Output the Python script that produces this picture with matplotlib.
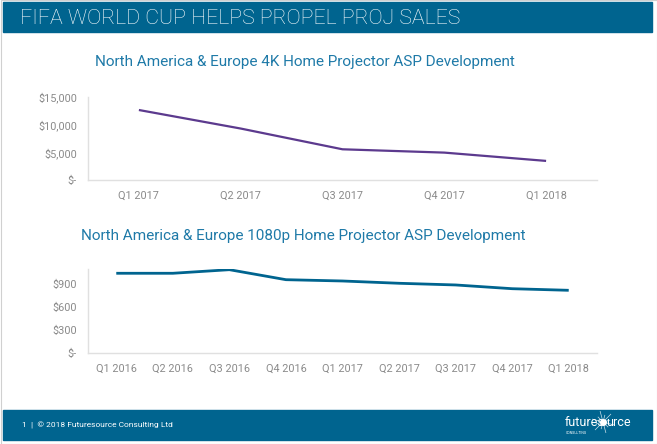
import matplotlib
matplotlib.use("Agg")
from matplotlib import pyplot as plt
from matplotlib.patches import Rectangle
from matplotlib.ticker import FuncFormatter
import numpy as np

# 4K chart data
quarters_4k = ["Q1 2017", "Q2 2017", "Q3 2017", "Q4 2017", "Q1 2018"]
asp_4k = [12650, 9300, 5550, 4950, 3450]

# 1080p chart data
quarters_1080 = ["Q1 2016", "Q2 2016", "Q3 2016", "Q4 2016", "Q1 2017",
                 "Q2 2017", "Q3 2017", "Q4 2017", "Q1 2018"]
asp_1080 = [1044, 1044, 1091, 960, 943, 913, 891, 842, 821]

BLUE = "#00648f"
TITLE_BLUE = "#1f7aa8"
PURPLE = "#5c3a8e"
GREY_TXT = "#8a8a8a"
GREY_LINE = "#e0e0e0"

plt.rcParams["font.family"] = ["Roboto", "DejaVu Sans"]

W, H = 657, 444
fig = plt.figure(figsize=(W / 100, H / 100), dpi=100)


def px(x0, y0, x1, y1):
    # pixel box -> figure fraction [left, bottom, width, height]
    return [x0 / W, 1 - y1 / H, (x1 - x0) / W, (y1 - y0) / H]


# slide frame, header and footer bands
fig.patches.append(Rectangle((0.5 / W, 0.5 / H), (W - 1) / W, (H - 1) / H,
                             transform=fig.transFigure, fill=False,
                             ec="#d0d0d0", lw=0.8))
fig.patches.append(Rectangle((3 / W, 1 - 32 / H), 649 / W, 30 / H,
                             transform=fig.transFigure, color=BLUE))
fig.patches.append(Rectangle((3 / W, 1 - 440 / H), 649 / W, 30 / H,
                             transform=fig.transFigure, color=BLUE))

fig.text(20 / W, 1 - 18 / H, "FIFA WORLD CUP HELPS PROPEL PROJ SALES",
         color="white", fontsize=15.3, fontweight="light", va="center")
fig.text(22 / W, 1 - 425 / H, "1  |  \u00a9 2018 Futuresource Consulting Ltd",
         color="white", fontsize=6, va="center")

# logo: "futures" + star + "urce"
fig.text(565 / W, 1 - 422 / H, "futures", color="white", fontsize=9,
         va="center", ha="left")
fig.text(631 / W, 1 - 422 / H, "urce", color="white", fontsize=9,
         va="center", ha="right")
fig.text(566 / W, 1 - 433 / H, "CONSULTING", color="white", fontsize=2.5,
         va="center", ha="left")
cx, cy = 603, 422
for ang in np.arange(0, 360, 30):
    r = 11 if ang % 90 == 45 or ang % 60 == 0 else 7
    a = np.deg2rad(ang + 15)
    fig.add_artist(plt.Line2D([cx / W, (cx + r * np.cos(a)) / W],
                              [1 - cy / H, 1 - (cy + r * np.sin(a)) / H],
                              transform=fig.transFigure, color="white",
                              lw=0.5, alpha=0.8))
fig.add_artist(plt.Line2D([cx / W], [1 - cy / H], transform=fig.transFigure,
                          marker="o", ms=4, color="white", lw=0))

fig.text(305 / W, 1 - 62 / H,
         "North America & Europe 4K Home Projector ASP Development",
         color=TITLE_BLUE, fontsize=11, ha="center", va="center")
fig.text(303 / W, 1 - 236 / H,
         "North America & Europe 1080p Home Projector ASP Development",
         color=TITLE_BLUE, fontsize=11, ha="center", va="center")


def money(v, pos):
    if v == 0:
        return "$-"
    return "${:,.0f}".format(v)


def style(ax):
    for s in ["top", "right"]:
        ax.spines[s].set_visible(False)
    for s in ["left", "bottom"]:
        ax.spines[s].set_color(GREY_LINE)
        ax.spines[s].set_linewidth(1.0)
    ax.tick_params(length=0, colors=GREY_TXT, labelsize=7.8)
    ax.tick_params(axis="y", pad=8)
    ax.tick_params(axis="x", pad=8)
    ax.yaxis.set_major_formatter(FuncFormatter(money))
    ax.patch.set_alpha(0)


ax1 = fig.add_axes(px(88, 97, 597, 180))
x1 = np.arange(len(quarters_4k))
ax1.plot(x1, asp_4k, color=PURPLE, lw=1.6, solid_capstyle="butt")
ax1.set_xlim(-0.5, len(quarters_4k) - 0.5)
ax1.set_ylim(0, 15000)
ax1.set_yticks([0, 5000, 10000, 15000])
ax1.set_xticks(x1)
ax1.set_xticklabels(quarters_4k)
style(ax1)

ax2 = fig.add_axes(px(88, 269, 597, 353))
x2 = np.arange(len(quarters_1080))
ax2.plot(x2, asp_1080, color=BLUE, lw=2.0, solid_capstyle="butt")
ax2.set_xlim(-0.5, len(quarters_1080) - 0.5)
ax2.set_ylim(0, 1100)
ax2.set_yticks([0, 300, 600, 900])
ax2.set_xticks(x2)
ax2.set_xticklabels(quarters_1080)
style(ax2)

fig.savefig("out.png", dpi=100)
